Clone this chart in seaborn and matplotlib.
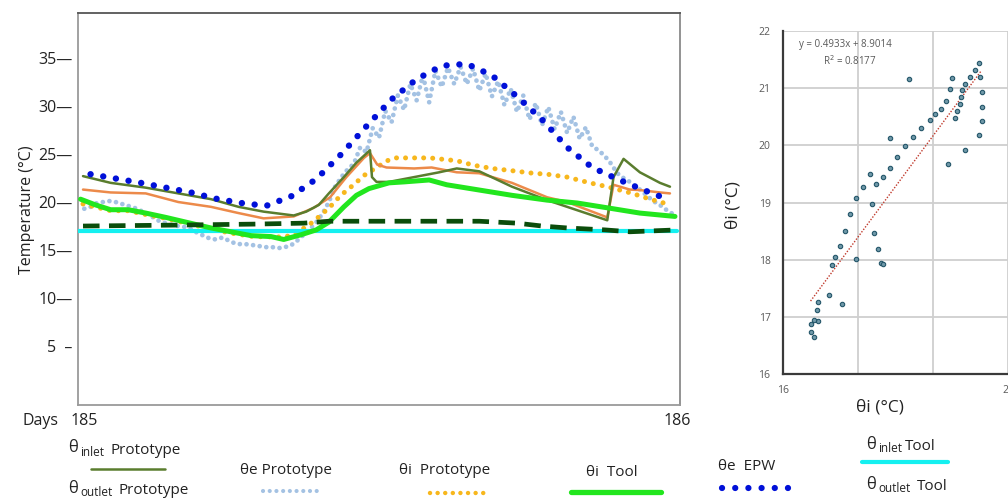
import matplotlib
matplotlib.use("Agg")
import matplotlib.pyplot as plt
from matplotlib.lines import Line2D
import seaborn as sns

# ---- left chart: hourly temperatures, day 185 -> 186 ----
epw_h = [0.5, 1.5, 2.5, 3.5, 4.5, 5.5, 6.5, 7.5, 8.5, 9.5, 10.5, 11.5,
         12.5, 13.5, 14.5, 15.5, 16.5, 17.5, 18.5, 19.5, 20.5, 21.5, 22.5, 23.5]
epw_t = [22.9, 22.45, 22.0, 21.5, 21.0, 20.35, 19.9, 19.6, 20.6, 22.4, 25.0, 27.9,
         30.7, 32.8, 34.2, 34.4, 33.2, 31.0, 28.6, 25.7, 23.6, 22.4, 21.3, 20.3]

proto_e_h = [0.25 * (i + 1) for i in range(95)]
proto_e_t = [19.3, 19.5, 19.9, 20.0, 20.1, 20.0, 19.8, 19.6, 19.4, 19.1, 18.8, 18.4,
             18.0, 17.8, 17.6, 17.5, 17.4, 17.2, 16.8, 16.5, 16.2, 16.1, 16.3, 16.0,
             15.7, 15.6, 15.6, 15.5, 15.4, 15.3, 15.3, 15.2, 15.3, 15.5, 16.0, 16.6,
             17.2, 17.9, 18.8, 20.0, 21.6, 22.6, 23.4, 24.0, 25.7, 25.2, 27.7, 26.7,
             29.5, 28.3, 31.1, 29.6, 32.3, 30.6, 33.2, 30.4, 33.7, 32.0, 34.0, 32.3,
             34.1, 32.3, 33.9, 31.6, 33.4, 31.0, 32.6, 30.1, 31.8, 29.4, 31.1, 28.6,
             30.3, 28.0, 29.9, 27.6, 29.4, 27.2, 28.9, 26.6, 27.8, 25.8, 25.4, 24.8,
             24.0, 23.0, 22.5, 22.1, 21.6, 21.1, 20.5, 20.0, 19.6, 19.1, 18.7]

inlet_proto_h = [0.2, 1.3, 2.7, 4.0, 5.3, 6.4, 7.4, 8.6, 9.1, 9.6, 10.0, 10.6, 11.1, 11.64,
                 11.72, 11.9, 12.4, 13.4, 14.4, 15.1, 16.0, 17.3, 18.7, 19.5, 21.1, 21.35,
                 21.75, 22.4, 23.2, 23.6]
inlet_proto_t = [22.7, 22.0, 21.5, 20.9, 20.3, 19.5, 19.0, 18.6, 19.0, 19.7, 20.9, 22.6, 24.1, 25.4,
                 22.6, 22.1, 22.1, 22.6, 23.1, 23.5, 23.2, 21.6, 20.2, 19.5, 18.1, 22.6,
                 24.5, 23.1, 22.0, 21.6]

outlet_proto_h = [0.2, 1.3, 2.7, 4.0, 5.3, 6.4, 7.4, 8.6, 9.4, 10.05, 10.7, 11.4, 11.64, 11.93,
                  12.3, 13.4, 14.1, 15.1, 16.0, 17.3, 18.7, 19.5, 21.1, 21.35, 22.0, 22.4,
                  23.2, 23.6]
outlet_proto_t = [21.3, 21.0, 20.9, 20.0, 19.5, 18.85, 18.3, 18.5, 19.4, 20.5, 22.6, 24.6, 25.1, 23.9,
                  23.6, 23.5, 23.6, 23.1, 23.0, 22.0, 20.5, 20.0, 18.4, 21.8, 21.3, 21.25,
                  21.0, 20.9]

proto_i_h = [0.2, 1.3, 2.0, 2.7, 3.5, 4.8, 6.0, 7.0, 8.25, 8.73, 9.25, 9.53, 9.77, 10.05,
             10.33, 10.57, 10.85, 11.12, 11.36, 11.72, 12.32, 12.64, 14.03, 15.11, 15.75,
             16.5, 17.2, 18.14, 18.7, 19.5, 20.4, 21.1, 22.1, 22.8, 23.5]
proto_i_t = [19.8, 19.1, 19.1, 18.7, 18.3, 17.5, 16.8, 16.4, 16.35, 16.8, 17.7, 18.3, 18.85, 19.5,
             20.3, 20.9, 21.5, 22.1, 22.7, 23.3, 24.3, 24.6, 24.6, 24.3, 23.85,
             23.5, 23.3, 23.0, 22.9, 22.6, 22.0, 21.6, 20.9, 20.3, 19.8]

tool_i_h = [0.1, 0.7, 1.3, 2.0, 2.7, 3.5, 4.8, 5.3, 6.1, 6.9, 7.7, 8.2, 8.9, 9.5, 10.0,
            10.6, 11.1, 11.6, 12.4, 13.0, 14.0, 14.7, 16.0, 17.3, 18.7, 19.9, 21.1, 22.4, 23.8]
tool_i_t = [20.3, 19.7, 19.2, 19.2, 18.85, 18.4, 17.6, 17.3, 16.9, 16.5, 16.4, 16.1, 16.6, 17.1, 17.9,
            19.5, 20.7, 21.4, 22.0, 22.1, 22.3, 21.8, 21.25, 20.7, 20.2, 19.9, 19.4, 18.85, 18.5]

inlet_tool_h = [0.0, 23.9]
inlet_tool_t = [17.0, 17.0]

outlet_tool_h = [0.2, 4.0, 7.0, 9.0, 10.0, 13.0, 16.0, 17.5, 18.5, 19.5, 21.0, 22.0, 23.9]
outlet_tool_t = [17.5, 17.6, 17.7, 17.8, 18.0, 18.0, 18.0, 17.8, 17.5, 17.3, 17.1, 16.9, 17.1]

y_ticks = [5, 10, 15, 20, 25, 30, 35]
y_tick_labels = ["5  \u2013", "10\u2014", "15\u2014", "20\u2014", "25\u2014", "30\u2014", "35\u2014"]

# ---- right chart: correlation ----
corr_x = [19.49, 19.41, 19.32, 19.51, 19.24, 19.19, 19.53, 18.97, 19.00, 19.17, 19.14, 18.89,
          18.80, 19.10, 19.05, 19.53, 19.53, 19.49, 19.24, 18.93, 18.71, 18.61, 18.46, 18.31,
          18.24, 18.16, 18.03, 17.90, 17.90, 17.78, 17.66, 17.54, 17.42, 17.30, 17.59, 17.19,
          17.10, 17.62, 17.01, 17.68, 16.93, 16.87, 17.30, 17.74, 17.78, 17.05, 16.82, 16.63,
          16.60, 16.63, 16.55, 16.49, 16.49, 16.56]
corr_y = [21.44, 21.31, 21.20, 21.19, 21.08, 20.96, 20.93, 20.98, 21.17, 20.84, 20.72, 20.78,
          20.64, 20.60, 20.48, 20.67, 20.43, 20.18, 19.92, 19.67, 20.54, 20.45, 20.30, 20.15,
          21.16, 19.99, 19.79, 20.12, 19.61, 19.44, 19.33, 19.49, 19.27, 19.07, 18.98, 18.80,
          18.50, 18.46, 18.24, 18.19, 18.05, 17.91, 18.01, 17.94, 17.92, 17.22, 17.39, 17.26,
          17.12, 16.92, 16.94, 16.88, 16.74, 16.65]

W, H = 1008, 504


def fx(px):
    return px / W


def fy(py):
    return 1 - py / H


sns.set_theme(style="white")
plt.rcParams["font.family"] = ["Open Sans", "DejaVu Sans"]

fig = plt.figure(figsize=(W / 100, H / 100), dpi=100)
fig.patch.set_facecolor("white")

ax = fig.add_axes([fx(78), fy(405), fx(680) - fx(78), fy(13) - fy(405)])

dot = (0, (0.01, 2.0))
sns.lineplot(x=proto_e_h, y=proto_e_t, ax=ax, color="#a4c2e3", linewidth=3.4,
             linestyle=(0, (0.01, 1.4)), dash_capstyle="round", sort=False, estimator=None, zorder=2)
sns.lineplot(x=proto_i_h, y=proto_i_t, ax=ax, color="#f7b71d", linewidth=3.6,
             linestyle=(0, (0.01, 1.8)), dash_capstyle="round", sort=False, estimator=None, zorder=3)
sns.lineplot(x=outlet_proto_h, y=outlet_proto_t, ax=ax, color="#ec8a4a", linewidth=1.8,
             sort=False, estimator=None, zorder=4)
sns.lineplot(x=inlet_proto_h, y=inlet_proto_t, ax=ax, color="#5a7d2e", linewidth=1.8,
             sort=False, estimator=None, zorder=5)
sns.lineplot(x=inlet_tool_h, y=inlet_tool_t, ax=ax, color="#14f0f0", linewidth=3.0,
             sort=False, estimator=None, zorder=6)
sns.lineplot(x=tool_i_h, y=tool_i_t, ax=ax, color="#22e61e", linewidth=3.6,
             sort=False, estimator=None, zorder=7)
sns.lineplot(x=outlet_tool_h, y=outlet_tool_t, ax=ax, color="#0b4d0b", linewidth=3.4,
             linestyle=(0, (3.5, 2.0)), sort=False, estimator=None, zorder=8)
sns.lineplot(x=epw_h, y=epw_t, ax=ax, color="#0010d8", linewidth=4.6,
             linestyle=dot, dash_capstyle="round", sort=False, estimator=None, zorder=9)

ax.set_xlim(0, 24)
ax.set_ylim(-1.15, 39.7)
ax.set_yticks(y_ticks)
ax.set_yticklabels(y_tick_labels, fontsize=11.5, color="#222222")
ax.set_xticks([0.25, 23.9])
ax.set_xticklabels(["185", "186"], fontsize=11.5, color="#222222")
ax.tick_params(axis="both", length=0)
ax.tick_params(axis="y", pad=4)
ax.tick_params(axis="x", pad=6)
ax.set_xlabel("")
ax.set_ylabel("")
ax.spines["top"].set_color("#555555")
ax.spines["left"].set_color("#9a9a9a")
ax.spines["right"].set_color("#8a8a8a")
ax.spines["bottom"].set_color("#9a9a9a")
for s in ax.spines.values():
    s.set_linewidth(1.3)

fig.text(fx(41), fy(421), "Days", ha="center", va="center", fontsize=11.5, color="#222222")
fig.text(fx(27), fy(210), "Temperature (\u00b0C)", rotation=90, ha="center", va="center",
         fontsize=11.5, color="#222222")

# right chart
ax2 = fig.add_axes([fx(783), fy(374), (20.6 - 16) * 56.25 / W, fy(31) - fy(374)])
sns.regplot(x=corr_x, y=corr_y, ax=ax2, scatter=False, ci=None, truncate=True,
            line_kws=dict(color="#c0392b", linewidth=1.0, linestyle=(0, (1, 1.2))))
sns.scatterplot(x=corr_x, y=corr_y, ax=ax2, s=10, color="#6f98a8", edgecolor="#24566a",
                linewidth=0.8, zorder=5)
ax2.set_xlim(16, 20.6)
ax2.set_ylim(16, 22)
ax2.set_xticks([16, 16 + 4 / 3, 16 + 8 / 3, 20])
ax2.set_xticklabels(["16", "", "", "20"], fontsize=7.5, color="#595959")
ax2.set_yticks([16, 17, 18, 19, 20, 21, 22])
ax2.set_yticklabels(["16", "17", "18", "19", "20", "21", "22"], fontsize=7.5, color="#595959")
ax2.tick_params(axis="both", length=0)
ax2.tick_params(axis="y", pad=9)
ax2.tick_params(axis="x", pad=8)
ax2.grid(True, color="#cfcfcf", linewidth=1.3)
ax2.set_axisbelow(True)
for side in ["top", "right"]:
    ax2.spines[side].set_visible(False)
for side in ["left", "bottom"]:
    ax2.spines[side].set_color("#3a3a3a")
    ax2.spines[side].set_linewidth(1.6)
ax2.text(16.28, 21.76, "y = 0.4933x + 8.9014", fontsize=7, color="#595959", va="center")
ax2.text(16.71, 21.47, "R$^2$ = 0.8177", fontsize=7, color="#595959", va="center")
fig.text(fx(880), fy(407), "\u03b8i (\u00b0C)", ha="center", va="center", fontsize=12.5, color="#222222")
fig.text(fx(733), fy(205), "\u03b8i (\u00b0C)", rotation=90, ha="center", va="center",
         fontsize=12.5, color="#222222")

# legend drawn under the charts
lbl = dict(fontsize=11, color="#222222", va="center", ha="left")
sub = dict(fontsize=8.5, color="#222222", va="center", ha="left")


def key(x0, x1, y, **kw):
    fig.add_artist(Line2D([fx(x0), fx(x1)], [fy(y), fy(y)], transform=fig.transFigure, **kw))


fig.text(fx(68), fy(448), "\u03b8", fontsize=12, color="#222222", va="center", ha="left")
fig.text(fx(80), fy(452), "inlet", **sub)
fig.text(fx(110), fy(450), "Prototype", **lbl)
key(91, 165, 469, color="#5a7d2e", linewidth=1.8)

fig.text(fx(68), fy(489), "\u03b8", fontsize=12, color="#222222", va="center", ha="left")
fig.text(fx(80), fy(492), "outlet", **sub)
fig.text(fx(119), fy(490), "Prototype", **lbl)

fig.text(fx(240), fy(471), "\u03b8e Prototype", **lbl)
key(263, 322, 491, color="#a4c2e3", linewidth=3.0, linestyle=(0, (0.01, 1.6)), dash_capstyle="round")

fig.text(fx(399), fy(471), "\u03b8i  Prototype", **lbl)
key(430, 490, 493, color="#f7b71d", linewidth=3.2, linestyle=(0, (0.01, 1.7)), dash_capstyle="round")

fig.text(fx(586), fy(472), "\u03b8i  Tool", **lbl)
key(571, 661, 492, color="#22e61e", linewidth=3.8, solid_capstyle="round")

fig.text(fx(718), fy(467), "\u03b8e  EPW", **lbl)
key(722, 800, 488, color="#0010d8", linewidth=4.5, linestyle=(0, (0.01, 2.1)), dash_capstyle="round")

fig.text(fx(866), fy(445), "\u03b8", fontsize=12, color="#222222", va="center", ha="left")
fig.text(fx(878), fy(448), "inlet", **sub)
fig.text(fx(905), fy(446), "Tool", **lbl)
key(862, 948, 462, color="#14f0f0", linewidth=3.0, solid_capstyle="round")

fig.text(fx(866), fy(485), "\u03b8", fontsize=12, color="#222222", va="center", ha="left")
fig.text(fx(878), fy(488), "outlet", **sub)
fig.text(fx(917), fy(486), "Tool", **lbl)
key(862, 950, 507, color="#0b4d0b", linewidth=4.0, linestyle=(0, (3.4, 1.9)))

fig.savefig("out.png", dpi=100)
